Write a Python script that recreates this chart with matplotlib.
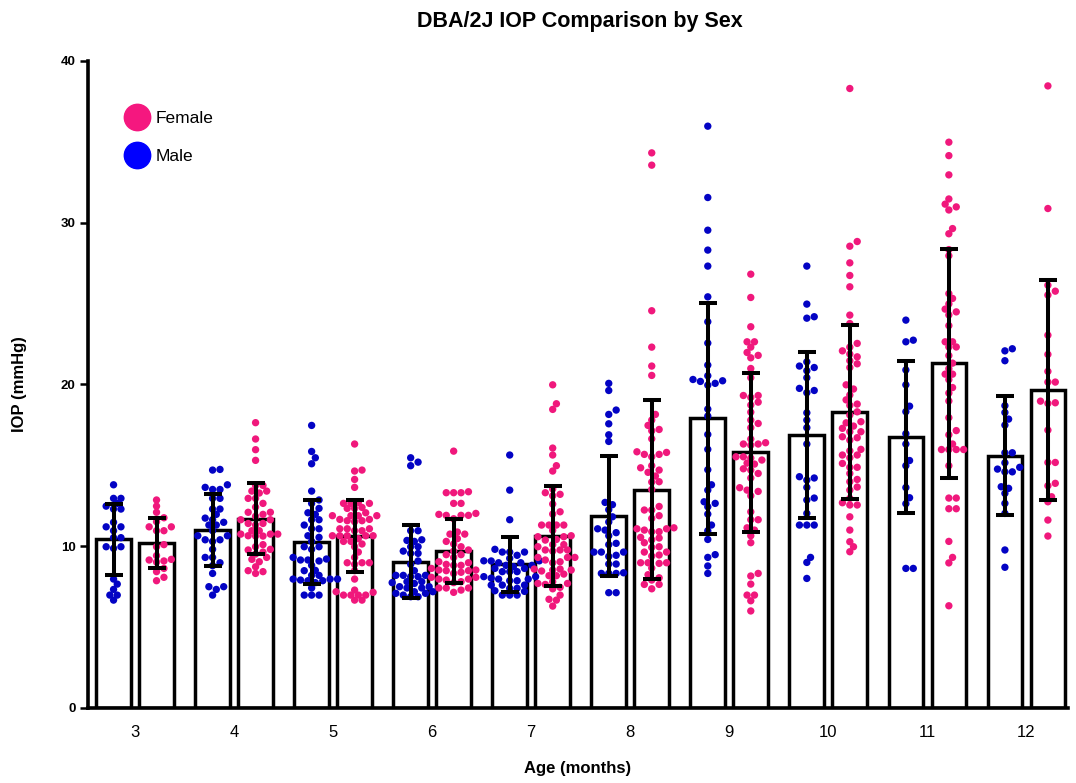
import numpy as np
import matplotlib
matplotlib.use("Agg")
import matplotlib.pyplot as plt
from matplotlib.lines import Line2D

# ---------------- data ----------------
ages = [3, 4, 5, 6, 7, 8, 9, 10, 11, 12]

m3 = [13.8, 12.96, 12.96, 12.65, 12.48, 12.3, 12.3, 11.48, 11.2, 11.2, 10.96, 10.53, 10.53, 9.97, 9.97, 9.87, 7.97, 7.66, 7.33, 6.98, 6.98, 6.67]
f3 = [12.86, 12.48, 12.1, 11.76, 11.52, 11.2, 11.2, 10.96, 10.96, 10.1, 9.97, 9.42, 9.15, 9.19, 9.02, 9.09, 8.63, 8.43, 8.08, 7.87]
m4 = [14.71, 14.75, 13.8, 13.51, 13.51, 13.64, 12.96, 12.96, 12.3, 12.3, 11.97, 11.74, 11.64, 11.48, 11.31, 11.31, 10.96, 10.65, 10.65, 10.4, 10.4, 10.3, 9.81, 9.31, 9.31, 8.98, 8.8, 8.32, 7.5, 7.5, 7.33, 6.98]
f4 = [17.64, 16.63, 15.97, 15.31, 13.76, 13.76, 13.41, 13.41, 13.29, 12.96, 12.96, 12.65, 12.42, 12.1, 12.1, 11.97, 11.85, 11.64, 11.64, 11.41, 11.41, 11.31, 10.96, 10.96, 10.75, 10.75, 10.75, 10.63, 10.63, 10.65, 10.1, 9.97, 9.81, 9.64, 9.77, 9.52, 9.19, 9.31, 9.04, 8.73, 8.43, 8.49, 8.32]
m5 = [17.47, 15.86, 15.47, 15.1, 13.41, 12.86, 12.65, 12.34, 11.97, 12.07, 11.64, 11.64, 11.31, 11.08, 11.08, 10.65, 10.55, 10.3, 9.97, 9.97, 9.81, 9.31, 9.15, 9.15, 9.09, 9.21, 8.82, 8.49, 8.51, 8.2, 8.2, 7.97, 7.97, 7.97, 7.87, 7.87, 7.91, 7.75, 7.42, 6.98, 6.98, 6.98]
f5 = [16.32, 14.71, 14.65, 14.13, 13.64, 12.71, 12.65, 12.65, 12.65, 12.4, 12.34, 12.34, 12.07, 11.89, 11.89, 11.89, 11.89, 11.66, 11.66, 11.52, 11.58, 11.58, 11.08, 11.08, 11.08, 10.96, 10.96, 10.65, 10.65, 10.65, 10.65, 10.65, 10.47, 10.3, 10.3, 10.14, 9.97, 9.64, 9.31, 8.98, 8.98, 8.98, 8.88, 8.49, 7.97, 7.19, 7.15, 7.29, 6.98, 6.98, 6.98, 6.98, 6.67, 6.67]
m6 = [15.47, 15.2, 14.98, 10.96, 10.96, 10.3, 10.36, 10.4, 9.97, 9.97, 9.7, 9.56, 9.56, 9.09, 8.88, 8.49, 8.2, 8.2, 8.2, 8.12, 8.12, 7.81, 7.81, 7.7, 7.5, 7.5, 7.75, 7.42, 7.42, 7.19, 7.19, 7.09, 7.09, 6.98, 6.88, 6.88]
f6 = [15.88, 13.31, 13.31, 13.31, 13.37, 12.65, 12.65, 12.03, 11.91, 11.91, 11.91, 11.97, 11.7, 10.88, 10.75, 10.75, 10.47, 10.3, 10.14, 9.97, 9.77, 9.7, 9.48, 9.48, 9.31, 8.98, 9.04, 8.88, 8.82, 8.82, 8.63, 8.53, 8.53, 8.49, 8.49, 8.32, 8.39, 8.08, 8.08, 7.97, 7.97, 7.91, 7.81, 7.75, 7.42, 7.42, 7.42, 7.29, 7.15]
m7 = [15.64, 13.47, 11.64, 9.81, 9.64, 9.64, 9.64, 9.44, 9.25, 9.1, 9.1, 9.09, 8.98, 8.98, 8.82, 8.82, 8.74, 8.63, 8.63, 8.43, 8.43, 8.43, 8.12, 8.12, 7.97, 7.97, 8.03, 7.87, 7.87, 7.6, 7.6, 7.6, 7.4, 7.4, 7.25, 7.21, 6.98, 6.98, 6.98]
f7 = [19.98, 18.81, 18.46, 16.07, 15.64, 14.98, 14.65, 13.54, 13.21, 13.12, 13.31, 12.61, 12.13, 11.99, 11.31, 11.31, 11.31, 11.31, 10.98, 10.65, 10.59, 10.59, 10.38, 10.42, 10.1, 10.1, 9.97, 9.77, 9.77, 9.77, 9.7, 9.31, 9.31, 9.31, 9.15, 9.04, 8.98, 8.59, 8.59, 8.53, 8.53, 8.47, 8.18, 8.18, 8.28, 7.81, 7.7, 7.7, 7.64, 7.46, 7.37, 6.98, 6.72, 6.67, 6.3]
m8 = [20.07, 19.63, 18.42, 18.15, 17.57, 16.89, 16.48, 12.71, 12.57, 12.26, 11.82, 11.5, 11.08, 11.0, 10.84, 10.65, 10.18, 10.1, 9.64, 9.64, 9.64, 9.44, 9.37, 8.9, 8.9, 8.36, 8.32, 8.32, 8.32, 7.13, 7.13]
f8 = [34.32, 33.56, 24.56, 22.31, 21.14, 20.56, 18.15, 17.8, 17.47, 17.22, 17.14, 16.64, 15.84, 15.68, 15.68, 15.8, 15.53, 14.85, 14.98, 14.57, 14.71, 14.34, 13.97, 13.99, 13.51, 12.46, 12.24, 12.24, 11.89, 11.72, 11.08, 11.08, 11.0, 10.9, 10.9, 11.14, 10.55, 10.4, 10.22, 10.51, 9.97, 9.93, 9.64, 9.64, 9.39, 9.46, 8.98, 8.98, 8.98, 8.94, 8.65, 8.24, 8.05, 7.91, 7.64, 7.64, 7.37]
m9 = [35.97, 31.56, 29.54, 28.31, 27.32, 25.42, 23.88, 22.56, 21.2, 20.54, 20.31, 20.19, 19.96, 20.07, 20.23, 18.48, 18.05, 16.91, 15.99, 14.73, 13.8, 13.47, 12.75, 12.65, 12.44, 11.99, 11.31, 10.96, 10.42, 9.48, 9.31, 8.78, 8.32]
f9 = [26.82, 25.38, 23.57, 22.64, 22.64, 22.31, 21.98, 21.8, 21.65, 20.99, 20.42, 19.32, 19.32, 18.91, 19.2, 18.73, 18.29, 17.59, 17.8, 17.33, 16.63, 16.32, 16.32, 16.25, 16.4, 15.53, 15.53, 15.33, 15.14, 15.08, 15.45, 14.79, 14.71, 14.5, 14.22, 13.47, 13.62, 13.39, 13.12, 12.13, 11.64, 11.64, 11.14, 11.0, 10.65, 10.22, 8.32, 8.16, 7.66, 6.98, 6.98, 6.63, 6.0]
m10 = [27.32, 24.97, 24.1, 24.19, 21.4, 21.14, 20.85, 21.05, 20.42, 19.76, 19.63, 19.49, 18.25, 17.8, 17.33, 16.32, 14.22, 14.09, 14.3, 13.64, 12.98, 12.86, 12.03, 11.31, 11.31, 11.31, 9.31, 9.0, 8.01]
f10 = [38.3, 28.84, 28.55, 27.52, 26.74, 26.04, 24.29, 23.77, 22.54, 22.31, 22.08, 21.88, 21.71, 21.47, 21.28, 21.05, 19.98, 19.72, 19.35, 19.05, 18.79, 18.71, 18.31, 18.11, 17.7, 17.63, 17.43, 17.29, 17.08, 17.08, 16.77, 16.56, 16.71, 15.9, 15.99, 15.64, 15.64, 15.47, 15.12, 14.88, 14.88, 14.5, 14.13, 13.99, 13.66, 13.47, 12.96, 12.69, 12.55, 12.55, 11.82, 11.0, 10.28, 9.97, 9.66]
m11 = [23.98, 22.74, 22.64, 20.9, 19.98, 18.66, 18.32, 16.96, 16.32, 15.3, 14.98, 13.63, 13.0, 12.63, 8.63, 8.63]
f11 = [34.98, 34.15, 32.96, 31.47, 30.98, 30.79, 31.15, 29.64, 29.32, 28.34, 27.96, 25.62, 25.32, 24.98, 24.66, 24.49, 24.3, 23.64, 22.64, 22.64, 22.32, 22.32, 21.79, 21.32, 20.98, 20.64, 20.64, 20.3, 19.81, 19.47, 18.98, 17.95, 17.15, 16.89, 16.32, 15.98, 15.98, 15.98, 15.98, 14.98, 12.98, 12.98, 12.32, 12.32, 10.3, 9.31, 8.97, 6.32]
m12 = [22.21, 22.08, 21.47, 18.69, 18.27, 17.86, 17.49, 15.78, 15.78, 15.16, 14.88, 14.6, 14.6, 14.77, 13.68, 13.58, 13.27, 12.65, 12.03, 9.77, 8.7]
f12 = [38.46, 30.88, 26.14, 25.77, 25.53, 23.05, 21.86, 20.81, 20.15, 20.15, 18.97, 18.87, 18.83, 17.18, 15.18, 15.18, 13.89, 13.74, 13.06, 12.75, 11.62, 10.63]

male_mean = [10.42, 11.0, 10.25, 9.05, 8.9, 11.85, 17.9, 16.9, 16.75, 15.6]
male_sd = [2.2, 2.2, 2.6, 2.25, 1.7, 3.7, 7.15, 5.13, 4.72, 3.66]
female_mean = [10.2, 11.7, 10.65, 9.7, 10.65, 13.5, 15.8, 18.3, 21.3, 19.65]
female_sd = [1.55, 2.2, 2.24, 1.96, 3.1, 5.54, 4.94, 5.37, 7.1, 6.8]

male_pts = [m3, m4, m5, m6, m7, m8, m9, m10, m11, m12]
female_pts = [f3, f4, f5, f6, f7, f8, f9, f10, f11, f12]

# ---------------- style ----------------
PINK = "#F0187C"
BLUE = "#0303C4"
LEG_PINK = "#F5177F"
LEG_BLUE = "#0000FF"
FONT = ["Liberation Sans", "DejaVu Sans"]
plt.rcParams["font.family"] = FONT

W, H = 1076, 783
fig = plt.figure(figsize=(W / 100, H / 100), dpi=100)
ax_l, ax_r, ax_b, ax_t = 88, 1068, 708, 61
ax = fig.add_axes([ax_l / W, 1 - ax_b / H, (ax_r - ax_l) / W, (ax_b - ax_t) / H])

x = np.arange(len(ages))
xmin, xmax = -0.475, 9.42
ymin, ymax = 0, 40
ax.set_xlim(xmin, xmax)
ax.set_ylim(ymin, ymax)

px_per_x = (ax_r - ax_l) / (xmax - xmin)
px_per_y = (ax_b - ax_t) / (ymax - ymin)

off = 0.217
bw = 0.35
step_px = 3.7     # horizontal grid step of the swarm
min_dist = 6.0    # minimum centre distance between dots (px)


def swarm_offsets(vals):
    vals = np.asarray(vals, float)
    order = np.argsort(vals)
    placed = []
    offs = np.zeros(len(vals))
    cands = [0.0]
    for k in range(1, 30):
        cands += [k * step_px, -k * step_px]
    for idx in order:
        y = vals[idx] * px_per_y
        chosen = cands[-1]
        for c in cands:
            if all((c - px) ** 2 + (y - py) ** 2 >= min_dist ** 2 for (px, py) in placed):
                chosen = c
                break
        placed.append((chosen, y))
        offs[idx] = chosen / px_per_x
    return offs


edge_lw = 2.5
for i in range(len(ages)):
    for pos, mean, sd, pts, col in [
        (x[i] - off, male_mean[i], male_sd[i], male_pts[i], BLUE),
        (x[i] + off, female_mean[i], female_sd[i], female_pts[i], PINK),
    ]:
        ax.bar(pos, mean, width=bw, color="white", edgecolor="black",
               linewidth=edge_lw, zorder=1)
        offs = swarm_offsets(pts)
        ax.scatter(pos + offs, pts, s=28, color=col, edgecolors="none", zorder=2)
        ax.errorbar(pos, mean, yerr=sd, fmt="none", ecolor="black",
                    elinewidth=2.9, capsize=6.7, capthick=2.9, zorder=3)

# axes styling
for s in ["top", "right"]:
    ax.spines[s].set_visible(False)
for s in ["left", "bottom"]:
    ax.spines[s].set_linewidth(2.6)
    ax.spines[s].set_zorder(4)

ax.set_yticks([0, 10, 20, 30, 40])
ax.set_yticklabels(["0", "10", "20", "30", "40"], fontsize=9.5, fontweight="bold")
ax.tick_params(axis="y", direction="out", length=6, width=1.8, pad=3)
ax.set_xticks(x)
ax.set_xticklabels([str(a) for a in ages], fontsize=12)
ax.tick_params(axis="x", length=0, pad=12)

ax.set_xlabel("Age (months)", fontsize=12, fontweight="bold", labelpad=15)
ax.set_ylabel("IOP (mmHg)", fontsize=12, fontweight="bold", labelpad=24)
fig.text(0.5 * (ax_l + ax_r) / W + 0.002, 1 - 21 / H, "DBA/2J IOP Comparison by Sex",
         ha="center", va="center", fontsize=15.5, fontweight="bold")

handles = [
    Line2D([], [], linestyle="none", marker="o", markersize=19, color=LEG_PINK, label="Female"),
    Line2D([], [], linestyle="none", marker="o", markersize=19, color=LEG_BLUE, label="Male"),
]
leg = ax.legend(handles=handles, loc="upper left", bbox_to_anchor=(0.034, 0.934),
                frameon=False, fontsize=12.5, handlelength=1.0, handletextpad=0.6,
                labelspacing=1.35, borderaxespad=0)

fig.savefig("out.png", dpi=100)
